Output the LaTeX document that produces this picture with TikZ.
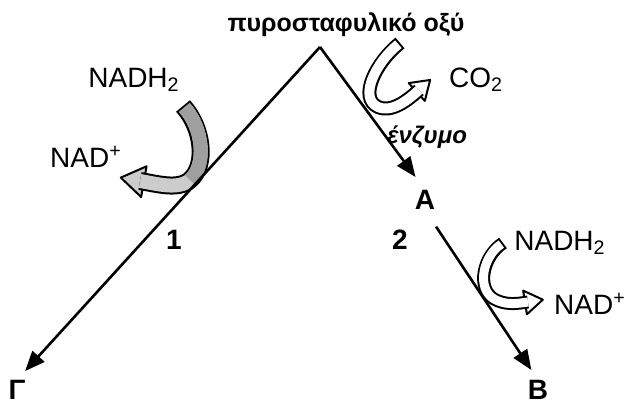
\documentclass[tikz,border=0pt]{standalone}
\usepackage{fontspec}
\setmainfont{Liberation Sans}
\usepackage{tikz}
\usetikzlibrary{arrows.meta}

\begin{document}
\begin{tikzpicture}[
  x=0.5pt, y=-0.5pt,
  mainarr/.style={-{Triangle[length=10pt, width=8pt]}, line width=1.3pt},
  lbl/.style={font=\fontsize{14}{16}\selectfont, inner sep=0pt},
  lblbf/.style={font=\fontsize{14}{16}\selectfont\bfseries, inner sep=0pt},
  hollow/.style 2 args={line width=#1, shorten <=1pt,
                        preaction={draw, black, line width=#2, shorten <=0pt}},
  pics/hhead/.style={code={\draw[line width=1pt, fill=#1, line join=round]
      (15,0) -- (-3,12) -- (-3,-12) -- cycle;}},
]
  \useasboundingbox (0,0) rectangle (627,405);

  % pyruvate on top
  \node[font=\fontsize{12.5}{14}\selectfont\bfseries, inner sep=0pt]
    (pyr) at (346,25) {πυροσταφυλικό οξύ};
  \coordinate (apex) at (320,47);

  % end products
  \node[lblbf] (G) at (17,390) {Γ};
  \node[lblbf] (A) at (425,200) {A};
  \node[lblbf] (B) at (538,390) {B};
  \node[lblbf] (one) at (174,240) {1};
  \node[lblbf] (two) at (400,240) {2};

  % co-factors
  \node[lbl] (nadhL) at (134,80) {NADH\textsubscript{2}};
  \node[lbl] (nadL) at (86,157) {NAD\textsuperscript{+}};
  \node[lbl] (co2) at (476,80) {CO\textsubscript{2}};
  \node[font=\fontsize{12}{14}\selectfont\bfseries\itshape, inner sep=0pt]
    (enz) at (427,137) {ένζυμο};
  \node[lbl] (nadhR) at (560,243) {NADH\textsubscript{2}};
  \node[lbl] (nadR) at (590,304) {NAD\textsuperscript{+}};

  %% curved arrow: pyruvate -> CO2
  \pic[rotate=42] at (419,90) {hhead=white};
  \draw[white, hollow={5pt}{7pt}]
    (400,43) .. controls (376,62) and (358,98) .. (378,107)
             .. controls (392,113) and (408,100) .. (419,90);

  %% curved arrow: NADH2 -> NAD+ (left, shaded)
  \pic[rotate=170, scale=1.3] at (140,181) {hhead=gray!40};
  \draw[gray!40, hollow={7pt}{9pt}]
    (183,106) .. controls (203,128) and (207,165) .. (190,180)
              .. controls (178,190) and (158,184) .. (140,181);
  \draw[gray!75, line width=7pt, shorten <=1pt]
    (183,106) .. controls (203,128) and (207,165) .. (190,180);

  %% curved arrow: NADH2 -> NAD+ (right)
  \pic[rotate=9] at (528,302) {hhead=white};
  \draw[white, hollow={4.5pt}{6.5pt}]
    (503,243) .. controls (483,256) and (476,288) .. (494,299)
              .. controls (505,305) and (515,304) .. (528,302);

  %% main reactions
  \draw[mainarr, shorten >=6pt] (apex) -- (G.north);
  \draw[mainarr, shorten >=8pt] (apex) -- (A.north);
  \draw[mainarr, shorten <=10pt, shorten >=6pt] (A.south) -- (B.north);

\end{tikzpicture}
\end{document}
